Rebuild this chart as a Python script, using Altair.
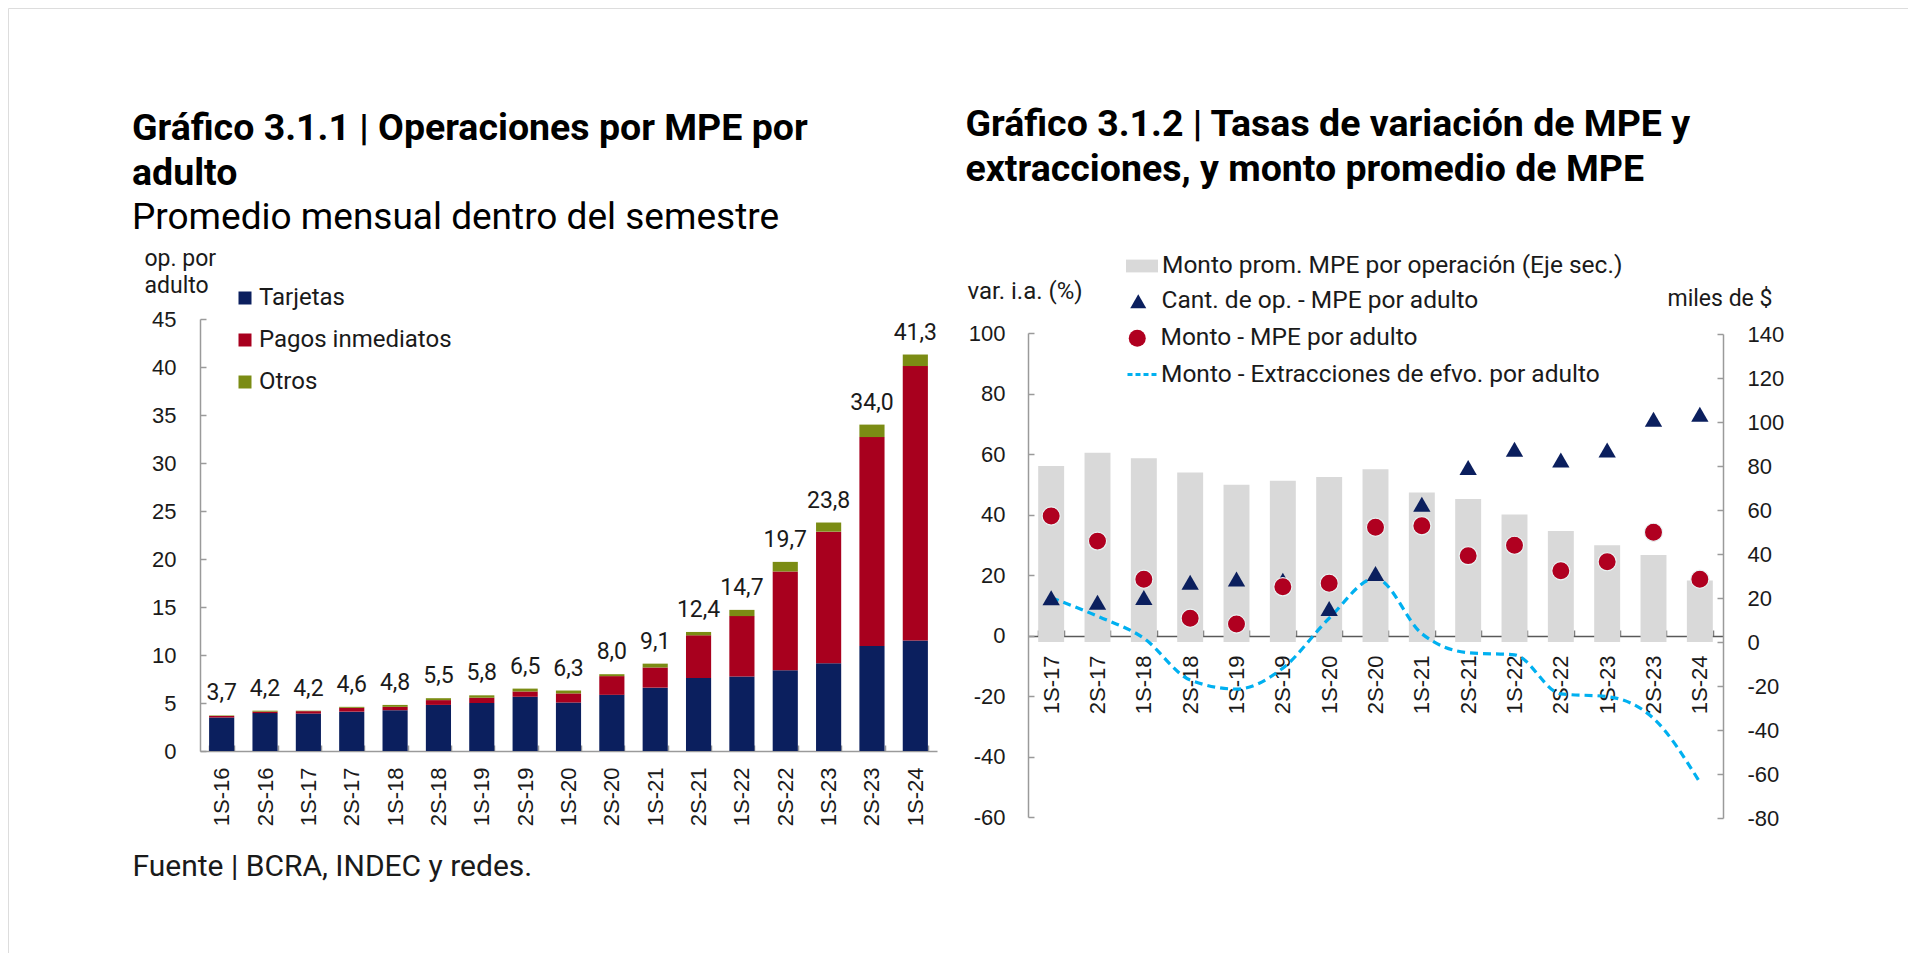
import altair as alt
import pandas as pd

# ---------------- data: Gráfico 3.1.1 ----------------
periodos_l = ["1S-16", "2S-16", "1S-17", "2S-17", "1S-18", "2S-18", "1S-19", "2S-19",
              "1S-20", "2S-20", "1S-21", "2S-21", "1S-22", "2S-22", "1S-23", "2S-23", "1S-24"]
tarjetas = [3.5, 3.95, 3.9, 4.1, 4.25, 4.8, 5.0, 5.65, 5.05, 5.85, 6.6, 7.6, 7.75, 8.4, 9.15, 10.95, 11.5]
pagos = [0.15, 0.15, 0.25, 0.4, 0.35, 0.5, 0.55, 0.55, 0.95, 1.95, 2.1, 4.45, 6.3, 10.3, 13.7, 21.75, 28.6]
otros = [0.05, 0.1, 0.05, 0.1, 0.2, 0.2, 0.25, 0.3, 0.3, 0.2, 0.4, 0.35, 0.65, 1.0, 0.95, 1.3, 1.2]
totales = [3.7, 4.2, 4.2, 4.6, 4.8, 5.5, 5.8, 6.5, 6.3, 8.0, 9.1, 12.4, 14.7, 19.7, 23.8, 34.0, 41.3]
series_l = ["Tarjetas", "Pagos inmediatos", "Otros"]
colores_l = ["#0b1f5e", "#a8001e", "#7b8c14"]
ticks_l = [0, 5, 10, 15, 20, 25, 30, 35, 40, 45]

# ---------------- data: Gráfico 3.1.2 ----------------
periodos_r = ["1S-17", "2S-17", "1S-18", "2S-18", "1S-19", "2S-19", "1S-20", "2S-20",
              "1S-21", "2S-21", "1S-22", "2S-22", "1S-23", "2S-23", "1S-24"]
monto_prom = [80.0, 86.0, 83.5, 77.0, 71.5, 73.3, 75.0, 78.5, 68.0, 65.0, 58.0, 50.5, 44.0, 39.5, 28.0]
cant_op = [12.5, 11.0, 12.6, 17.6, 18.7, 18.3, 8.9, 20.5, 43.4, 55.5, 61.6, 58.0, 61.3, 71.5, 73.1]
monto_mpe = [39.5, 31.2, 18.6, 5.7, 3.8, 16.1, 17.3, 35.8, 36.3, 26.4, 29.8, 21.4, 24.4, 34.1, 18.6]
monto_extr = [12.5, 6.4, -0.9, -14.7, -17.7, -10.8, 5.7, 18.9, 0.6, -5.7, -6.4, -19.3, -20.2, -27.4, -48.5]
ticks_r1 = [-60, -40, -20, 0, 20, 40, 60, 80, 100]
ticks_r2 = [-80, -60, -40, -20, 0, 20, 40, 60, 80, 100, 120, 140]
n_bar = "Monto prom. MPE por operación (Eje sec.)"
n_tri = "Cant. de op. - MPE por adulto"
n_cir = "Monto - MPE por adulto"
n_lin = "Monto - Extracciones de efvo. por adulto"

W, H = 1900, 945
TXT = "#1a1a1a"
AX_GRAY = "#9a9a9a"
MINUS = "replace(datum.label, '\u2212', '-')"

# ---------------- tables ----------------
rows = []
for i, p in enumerate(periodos_l):
    for k, (s, vals) in enumerate(zip(series_l, [tarjetas, pagos, otros])):
        rows.append({"periodo": p, "serie": s, "valor": vals[i], "orden": k})
df_stack = pd.DataFrame(rows)
df_tot = pd.DataFrame({"periodo": periodos_l, "total": totales})

df_bar = pd.DataFrame({"periodo": periodos_r, "valor": monto_prom, "serie": n_bar})
df_tri = pd.DataFrame({"periodo": periodos_r, "valor": cant_op, "serie": n_tri})
df_cir = pd.DataFrame({"periodo": periodos_r, "valor": monto_mpe, "serie": n_cir})
df_lin = pd.DataFrame({"periodo": periodos_r, "valor": monto_extr, "serie": n_lin})

# ---------------- left chart ----------------
sc_xl = alt.Scale(domain=periodos_l, range=[192, 929], paddingInner=0.42, paddingOuter=0.21)
ax_xl = alt.Axis(orient="top", offset=-743, tickBand="extent", tickSize=6, tickColor=AX_GRAY,
                 tickWidth=1.5, domainColor=AX_GRAY, domainWidth=1.5, labelAngle=270,
                 labelAlign="right", labelBaseline="middle", labelPadding=-22,
                 labelFont="Liberation Sans", labelFontSize=22, labelColor=TXT, labelOverlap=False,
                 grid=False,
                 title="Fuente | BCRA, INDEC y redes.", titleX=124, titleY=124, titleAngle=0,
                 titleAlign="left", titleBaseline="alphabetic", titleFont="Roboto",
                 titleFontSize=30, titleFontWeight="normal", titleColor=TXT)
sc_yl = alt.Scale(domain=[0, 45], range=[743, 311], nice=False)
ax_yl = alt.Axis(orient="right", offset=192 - W, values=ticks_l, tickSize=6, tickColor=AX_GRAY,
                 tickWidth=1.5, domainColor=AX_GRAY, domainWidth=1.5, labelAlign="right",
                 labelBaseline="middle", labelPadding=-30, labelFont="Liberation Sans",
                 labelFontSize=22, labelColor=TXT, grid=False,
                 title=["op. por", "adulto"], titleX=-56, titleY=257, titleAngle=0,
                 titleAlign="left", titleBaseline="alphabetic", titleLineHeight=27,
                 titleFont="Roboto", titleFontSize=23, titleFontWeight="normal", titleColor=TXT)

stack = alt.Chart(df_stack).mark_bar().encode(
    x=alt.X("periodo:N", scale=sc_xl, axis=ax_xl),
    y=alt.Y("valor:Q", stack="zero", scale=sc_yl, axis=ax_yl),
    color=alt.Color("serie:N", scale=alt.Scale(domain=series_l, range=colores_l),
                    legend=alt.Legend(orient="none", legendX=225, legendY=278, title=None,
                                      symbolType="square", symbolSize=169, symbolStrokeWidth=0,
                                      labelFont="Roboto", labelFontSize=24, labelColor=TXT,
                                      labelOffset=2, labelLimit=600, rowPadding=18, padding=0,
                                      direction="vertical")),
    order=alt.Order("orden:Q"),
)
labels = alt.Chart(df_tot).transform_calculate(
    lbl="replace(format(datum.total, '.1f'), '.', ',')"
).mark_text(font="Roboto", fontSize=23, baseline="alphabetic", dy=-15, color=TXT).encode(
    x=alt.X("periodo:N", scale=sc_xl, axis=ax_xl),
    y=alt.Y("total:Q", scale=sc_yl, axis=ax_yl),
    text="lbl:N",
)
left = alt.layer(stack, labels)

# ---------------- right chart ----------------
sc_xr = alt.Scale(domain=periodos_r, range=[1020, 1715], paddingInner=0.44, paddingOuter=0.22)
ax_xr = alt.Axis(orient="top", offset=-628, tickBand="extent", tickSize=6, tickColor="#7f7f7f",
                 tickWidth=1.5, domainColor="#595959", domainWidth=1.5, labelAngle=270,
                 labelAlign="right", labelBaseline="middle", labelPadding=-25,
                 labelFont="Liberation Sans", labelFontSize=22, labelColor=TXT, labelOverlap=False,
                 grid=False,
                 title=["Gráfico 3.1.2 | Tasas de variación de MPE y",
                        "extracciones, y monto promedio de MPE"],
                 titleX=957, titleY=-501, titleAngle=0, titleAlign="left",
                 titleBaseline="alphabetic", titleLineHeight=45, titleFont="Roboto",
                 titleFontSize=37.5, titleFontWeight="bold", titleColor="#000000")
x_r = alt.X("periodo:N", scale=sc_xr, axis=ax_xr)

sc_yr1 = alt.Scale(domain=[-60, 100], range=[809, 325], nice=False)
ax_yr1 = alt.Axis(orient="right", offset=1020 - W, values=ticks_r1, tickSize=6, tickColor=AX_GRAY,
                  tickWidth=1.5, domainColor=AX_GRAY, domainWidth=1.5, labelAlign="right",
                  labelBaseline="middle", labelPadding=-29, labelFont="Liberation Sans",
                  labelFontSize=22, labelColor=TXT, grid=False, labelExpr=MINUS,
                  title="var. i.a. (%)", titleX=-61, titleY=290, titleAngle=0, titleAlign="left",
                  titleBaseline="alphabetic", titleFont="Roboto", titleFontSize=24,
                  titleFontWeight="normal", titleColor=TXT)
sc_yr2 = alt.Scale(domain=[-80, 140], range=[810, 326], nice=False)
ax_yr2 = alt.Axis(orient="left", offset=-1715, values=ticks_r2, tickSize=6, tickColor=AX_GRAY,
                  tickWidth=1.5, domainColor=AX_GRAY, domainWidth=1.5, labelAlign="left",
                  labelBaseline="middle", labelPadding=-30, labelFont="Liberation Sans",
                  labelFontSize=22, labelColor=TXT, grid=False, labelExpr=MINUS,
                  title="miles de $", titleX=-56, titleY=297, titleAngle=0, titleAlign="left",
                  titleBaseline="alphabetic", titleFont="Roboto", titleFontSize=23,
                  titleFontWeight="normal", titleColor=TXT)


def leg(x, y, **kw):
    return alt.Legend(orient="none", legendX=x, legendY=y, title=None, padding=0,
                      labelFont="Roboto", labelFontSize=24.5, labelColor=TXT, labelLimit=800, **kw)


bars_r = alt.Chart(df_bar).mark_bar().encode(
    x=x_r,
    y=alt.Y("valor:Q", scale=sc_yr2, axis=ax_yr2),
    color=alt.Color("serie:N", scale=alt.Scale(domain=[n_bar], range=["#d9d9d9"]),
                    legend=leg(1118, 242, symbolType="M-1,-0.4H1V0.4H-1Z", symbolSize=1024,
                               symbolStrokeWidth=0, labelOffset=4)),
)
line_r = alt.Chart(df_lin).mark_line(strokeWidth=3.2, strokeDash=[8, 5], interpolate="monotone").encode(
    x=x_r,
    y=alt.Y("valor:Q", scale=sc_yr1, axis=ax_yr1),
    color=alt.Color("serie:N", scale=alt.Scale(domain=[n_lin], range=["#00b0f0"]),
                    legend=leg(1118, 349, symbolType="stroke", symbolSize=1024,
                               symbolStrokeWidth=3, symbolDash=[5, 3], labelOffset=0)),
)
tri_r = alt.Chart(df_tri).mark_point(shape="triangle-up", filled=True, size=300, opacity=1).encode(
    x=x_r,
    y=alt.Y("valor:Q", scale=sc_yr1, axis=ax_yr1),
    color=alt.Color("serie:N", scale=alt.Scale(domain=[n_tri], range=["#0b1f5e"]),
                    legend=leg(1118, 281, symbolType="triangle-up", symbolSize=256,
                               symbolStrokeWidth=0, labelOffset=11)),
)
cir_r = alt.Chart(df_cir).mark_circle(size=330, opacity=1, stroke="#eaf4f4", strokeWidth=1.2).encode(
    x=x_r,
    y=alt.Y("valor:Q", scale=sc_yr1, axis=ax_yr1),
    color=alt.Color("serie:N", scale=alt.Scale(domain=[n_cir], range=["#b00020"]),
                    legend=leg(1117, 318, symbolType="circle", symbolSize=289,
                               symbolStrokeWidth=0, labelOffset=11)),
)
pct = alt.layer(line_r, tri_r, cir_r).resolve_scale(color="independent")
right = alt.layer(bars_r, pct).resolve_scale(y="independent", color="independent")

chart = alt.layer(left, right).resolve_scale(
    x="independent", y="independent", color="independent"
).properties(
    width=W, height=H, padding=0,
    autosize=alt.AutoSizeParams(type="none"),
    title=alt.TitleParams(
        text=["Gráfico 3.1.1 | Operaciones por MPE por", "adulto"],
        subtitle="Promedio mensual dentro del semestre",
        anchor="start", frame="group", orient="top", dx=124, offset=-228,
        baseline="top", font="Roboto", fontSize=37.5, fontWeight="bold", color="#000000",
        lineHeight=45, subtitleFont="Roboto", subtitleFontSize=37, subtitleColor="#000000",
        subtitlePadding=8,
    ),
).configure_view(strokeWidth=0).configure(background="white")

chart.save("out.html", embed_options={"renderer": "svg", "actions": False})
